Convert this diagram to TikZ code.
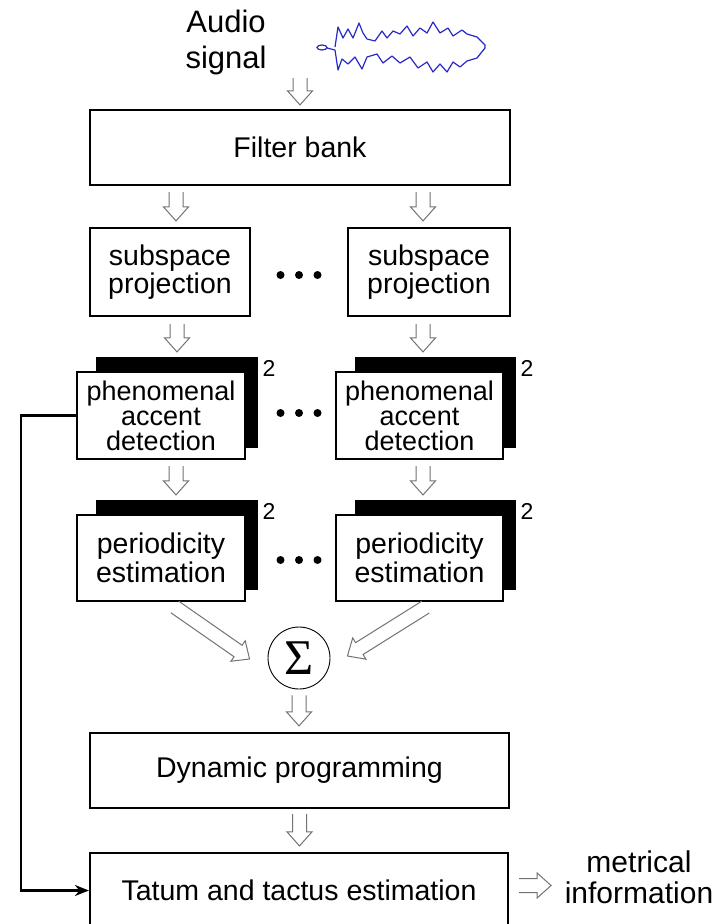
\documentclass[tikz,border=0pt]{standalone}
\usepackage{fontspec}
\setmainfont{Liberation Sans}
\newfontfamily\sigmafont{Liberation Serif}
\usetikzlibrary{calc,arrows.meta,backgrounds}
\newcommand\harrow[2]{%
  \coordinate (hbase) at ($(#2)!14pt!(#1)$);
  \draw[harr] ($(#1)!7pt!90:(#2)$) -- ($(hbase)!7pt!90:(#2)$) -- ($(hbase)!12.5pt!90:(#2)$) -- (#2)
     -- ($(hbase)!12.5pt!-90:(#2)$) -- ($(hbase)!7pt!-90:(#2)$) -- ($(#1)!7pt!-90:(#2)$);}
\begin{document}
\begin{tikzpicture}[x=1pt,y=-1pt,
  box/.style={draw,line width=2.2pt,fill=white,inner sep=0pt,align=center,
    font=\fontsize{28.5}{28}\selectfont},
  harr/.style={draw=black!55,line width=1pt,line join=miter},
  shadowbox/.style={fill=black},
  twolab/.style={font=\fontsize{23}{23}\selectfont,inner sep=0pt},
  dot/.style={fill=black}]
\useasboundingbox (0,0) rectangle (722,924);
\begin{scope}[on background layer]
\fill[white] (0,0) rectangle (722,924);
\end{scope}

% input
\node[align=center,font=\fontsize{31}{36}\selectfont,inner sep=0pt] (audio) at (226,42) {Audio\\signal};
\draw[color={rgb,255:red,40;green,40;blue,200},line width=1.2pt,line join=round]
 (335,47) -- (338,27) -- (343,38) -- (348,29) -- (353,38) -- (359,23) -- (363,33) -- (367,39)
 -- (375,41) -- (382,31) -- (387,38) -- (393,31) -- (400,34) -- (407,26) -- (413,36) -- (420,28)
 -- (427,33) -- (433,22) -- (440,33) -- (448,28) -- (453,36) -- (462,30) -- (467,34) -- (477,37)
 -- (485,45) -- (485,48) -- (477,58) -- (467,61) -- (460,67) -- (453,62) -- (447,72) -- (440,64)
 -- (433,72) -- (427,62) -- (418,68) -- (410,57) -- (400,63) -- (392,56) -- (383,63) -- (377,54)
 -- (367,57) -- (362,69) -- (355,57) -- (348,64) -- (342,59) -- (338,70) -- (335,50) -- (327,48);
\draw[color={rgb,255:red,40;green,40;blue,200},line width=1.2pt] (322,47.5) ellipse [x radius=5,y radius=2.5];

% boxes
\node[box,minimum width=420pt,minimum height=75pt] (fb) at (300,147.5) {Filter bank};
\node[box,minimum width=160pt,minimum height=88pt] (sp1) at (170,272) {subspace\\projection};
\node[box,minimum width=162pt,minimum height=88pt] (sp2) at (429,272) {subspace\\projection};
\node[box,minimum width=168pt,minimum height=87pt,font=\fontsize{27}{25}\selectfont] (ph1) at (161,415.5) {phenomenal\\accent\\detection};
\node[box,minimum width=167pt,minimum height=87pt,font=\fontsize{27}{25}\selectfont] (ph2) at (419.5,415.5) {phenomenal\\accent\\detection};
\node[box,minimum width=168pt,minimum height=86pt,font=\fontsize{28.5}{29}\selectfont] (pe1) at (161,558) {periodicity\\estimation};
\node[box,minimum width=167pt,minimum height=86pt,font=\fontsize{28.5}{29}\selectfont] (pe2) at (419.5,558) {periodicity\\estimation};
\node[draw,circle,minimum size=62pt,inner sep=0pt,line width=0.9pt] (sum) at (299,658) {\sigmafont\fontsize{50}{50}\selectfont Σ};
\node[box,minimum width=419pt,minimum height=75pt] (dp) at (299.5,770.5) {Dynamic programming};
\node[box,minimum width=418pt,minimum height=75pt] (tt) at (299,890.5) {Tatum and tactus estimation};
\node[align=center,inner sep=0pt,font=\fontsize{30}{31}\selectfont] (out) at (639,877) {metrical\\information};

% shadows (second copies)
\begin{scope}[on background layer]
\foreach \b in {ph1,ph2,pe1,pe2}
  \fill[shadowbox] ($(\b.north west)+(20,-14)$) rectangle ($(\b.south east)+(12,-12)$);
\end{scope}
\foreach \b/\n in {ph1/t1,ph2/t2,pe1/t3,pe2/t4}
  \node[twolab] (\n) at ($(\b.north east)+(23,-2)$) {2};

% dots
\foreach \y in {275,413,560}
  \foreach \dx in {-18.5,0,18.5}
    \fill[dot] (299+\dx,\y) circle (4);

% hollow arrows
\coordinate (a0) at (300,78); \coordinate (b0) at ($(fb.north)+(0,-4)$);
\harrow{a0}{b0}
\coordinate (a1) at ($(fb.south)+(-124,6)$); \coordinate (b1) at ($(sp1.north)+(6,-6)$);
\harrow{a1}{b1}
\coordinate (a2) at ($(fb.south)+(123,6)$); \coordinate (b2) at ($(sp2.north)+(-6,-6)$);
\harrow{a2}{b2}
\coordinate (a3) at ($(sp1.south)+(7,7)$); \coordinate (b3) at ($(ph1.north)+(16,-19)$);
\harrow{a3}{b3}
\coordinate (a4) at ($(sp2.south)+(-6,7)$); \coordinate (b4) at ($(ph2.north)+(3.5,-19)$);
\harrow{a4}{b4}
\coordinate (a5) at ($(ph1.south)+(15,6)$); \coordinate (b5) at ($(pe1.north)+(15,-19)$);
\harrow{a5}{b5}
\coordinate (a6) at ($(ph2.south)+(3.5,6)$); \coordinate (b6) at ($(pe2.north)+(3.5,-19)$);
\harrow{a6}{b6}
\coordinate (a7) at ($(pe1.south)+(14,5)$); \coordinate (b7) at ($(sum.west)+(-18,1)$);
\harrow{a7}{b7}
\coordinate (a8) at ($(pe2.south)+(6,5)$); \coordinate (b8) at ($(sum.east)+(17,-2)$);
\harrow{a8}{b8}
\coordinate (a9) at ($(sum.south)+(0,6)$); \coordinate (b9) at ($(dp.north)+(-0.5,-6)$);
\harrow{a9}{b9}
\coordinate (a10) at ($(dp.south)+(0,5)$); \coordinate (b10) at ($(tt.north)+(0.5,-6)$);
\harrow{a10}{b10}
\coordinate (a11) at ($(tt.east)+(10,-5)$); \coordinate (b11) at ($(tt.east)+(42,-5)$);
\harrow{a11}{b11}

% feedback
\draw[line width=2.2pt,-{Stealth[length=14pt,width=11pt]}] (ph1.west) -- ++(-55,0) |- (tt.west);
\end{tikzpicture}
\end{document}
